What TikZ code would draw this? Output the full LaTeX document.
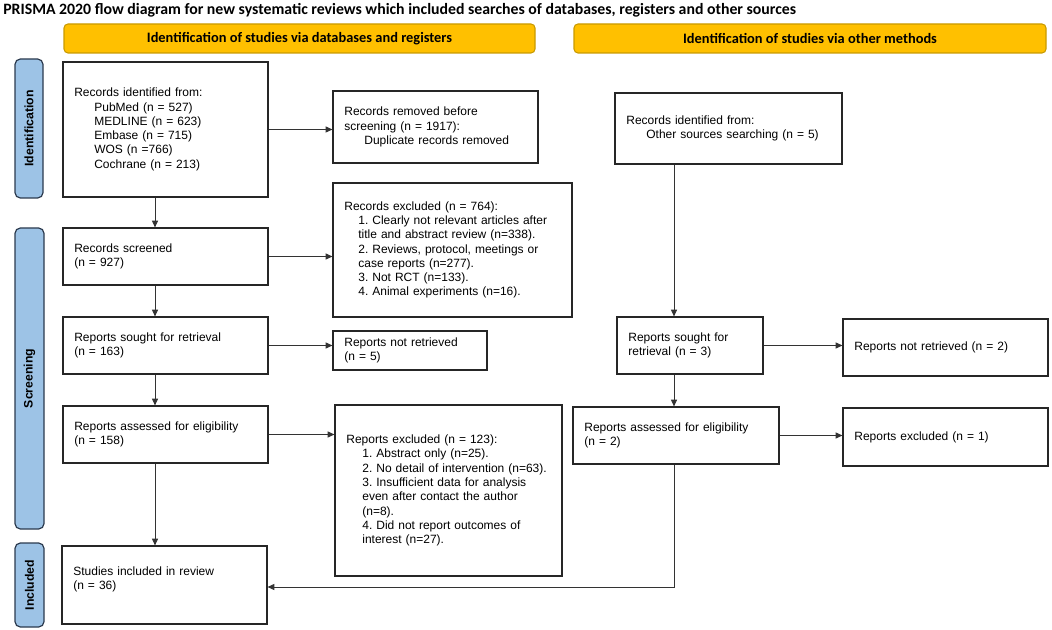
\documentclass[tikz,border=0pt]{standalone}
\usepackage{fontspec}
\setmainfont{Liberation Sans}
\newfontfamily\calibri{Carlito}
\usetikzlibrary{arrows.meta}
\frenchspacing

\newcommand{\px}{0.75pt}
\newcommand{\ind}[1]{\hspace*{#1pt}}

\definecolor{headyellow}{HTML}{FFC000}
\definecolor{headedge}{HTML}{C99A00}
\definecolor{sideblue}{HTML}{9DC3E6}
\definecolor{sideedge}{HTML}{2B3A4E}

\begin{document}
\begin{tikzpicture}[x=0.75pt, y=-0.75pt,
    box/.style 2 args={draw=black!85, line width=0.9pt, align=left,
        font=\fontsize{9}{10.7}\selectfont, inner xsep=8.5pt, inner ysep=0pt,
        text width=#1*\px-17pt, minimum height=#2*\px},
    head/.style={draw=headedge, fill=headyellow, rounded corners=3pt, line width=0.8pt,
        font=\calibri\bfseries\fontsize{10.8}{12}\selectfont,
        minimum width=#1*\px, minimum height=29*\px},
    side/.style 2 args={draw=sideedge, fill=sideblue, rounded corners=4pt, line width=0.9pt,
        rotate=90, font=\bfseries\fontsize{9.2}{10}\selectfont, inner sep=0pt,
        minimum width=#1*\px, minimum height=#2*\px},
    arr/.style={-{Triangle[length=5pt,width=4.5pt]}, line width=0.6pt, draw=black!80}
]
    \useasboundingbox (0,0) rectangle (1052,630);

    % Title
    \node[anchor=west, inner sep=0pt, font=\calibri\bfseries\fontsize{11.85}{13}\selectfont] (title) at (3,10)
        {PRISMA 2020 flow diagram for new systematic reviews which included searches of databases, registers and other sources};

    % Headers
    \node[head=471] (dbhead) at (299.5,38.5) {Identification of studies via databases and registers};
    \node[head=472] (othhead) at (810,38.5) {Identification of studies via other methods};

    % Side bars
    \node[side={139}{28}] (sideid) at (29,128.5) {Identification};
    \node[side={301}{29}] (sidescr) at (29.5,378.5) {Screening};
    \node[side={84}{29}] (sideinc) at (29.5,585) {Included};

    % Databases and registers
    \node[box={205}{135}] (ident) at (165.5,129.5) {Records identified from:\\
        \ind{15}PubMed (n = 527)\\ \ind{15}MEDLINE (n = 623)\\ \ind{15}Embase (n = 715)\\
        \ind{15}WOS (n =766)\\ \ind{15}Cochrane (n = 213)};
    \node[box={205}{72}] (removed) at (435.5,127) {Records removed before\\
        screening (n = 1917):\\ \ind{15}Duplicate records removed};
    \node[box={205}{57}] (screened) at (165.5,256.5) {Records screened\\ (n = 927)};
    \node[box={239}{134}] (recexcl) at (452.5,250) {Records excluded (n = 764):\\
        \ind{10.5}1. Clearly not relevant articles after\\
        \ind{10.5}title and abstract review (n=338).\\
        \ind{10.5}2. Reviews, protocol, meetings or\\
        \ind{10.5}case reports (n=277).\\
        \ind{10.5}3. Not RCT (n=133).\\
        \ind{10.5}4. Animal experiments (n=16).};
    \node[box={205}{57}] (sought) at (165.5,345.5) {Reports sought for retrieval\\ (n = 163)};
    \node[box={154}{39}] (notretr) at (410,350.5) {Reports not retrieved\\ (n = 5)};
    \node[box={205}{57}] (assessed) at (165.5,434.5) {Reports assessed for eligibility\\ (n = 158)};
    \node[box={227}{171}] (repexcl) at (448.5,490.5) {Reports excluded (n = 123):\\
        \ind{12}1. Abstract only (n=25).\\
        \ind{12}2. No detail of intervention (n=63).\\
        \ind{12}3. Insufficient data for analysis\\
        \ind{12}even after contact the author\\
        \ind{12}(n=8).\\
        \ind{12}4. Did not report outcomes of\\
        \ind{12}interest (n=27).};
    \node[box={205}{78}] (included) at (164.5,585) {Studies included in review\\ (n = 36)\\[0pt]\mbox{}};

    % Other methods
    \node[box={227}{71}] (other) at (728.5,128.5) {Records identified from:\\
        \ind{15}Other sources searching (n = 5)};
    \node[box={146}{57}] (osought) at (690,345.5) {Reports sought for\\ retrieval (n = 3)};
    \node[box={205}{57}] (onotretr) at (945.5,347.5) {Reports not retrieved (n = 2)};
    \node[box={206}{57}] (oassessed) at (676,435.5) {Reports assessed for eligibility\\ (n = 2)};
    \node[box={205}{58}] (oexcl) at (945.5,437) {Reports excluded (n = 1)};

    % Arrows
    \coordinate (lcol) at (155,0);
    \coordinate (rcol) at (674,0);
    \draw[arr] (ident.east) -- (ident.east -| removed.west);
    \draw[arr] (ident.south -| lcol) -- (screened.north -| lcol);
    \draw[arr] (screened.east) -- (screened.east -| recexcl.west);
    \draw[arr] (screened.south -| lcol) -- (sought.north -| lcol);
    \draw[arr] (sought.east) -- (sought.east -| notretr.west);
    \draw[arr] (sought.south -| lcol) -- (assessed.north -| lcol);
    \draw[arr] (assessed.east) -- (assessed.east -| repexcl.west);
    \draw[arr] (assessed.south -| lcol) -- (included.north -| lcol);
    \draw[arr] (other.south -| rcol) -- (osought.north -| rcol);
    \draw[arr] (osought.east) -- (osought.east -| onotretr.west);
    \draw[arr] (osought.south -| rcol) -- (oassessed.north -| rcol);
    \draw[arr] (oassessed.east) -- (oassessed.east -| oexcl.west);
    \draw[arr] (oassessed.south -| rcol) |- ([yshift=-2*\px]included.east);
\end{tikzpicture}
\end{document}
